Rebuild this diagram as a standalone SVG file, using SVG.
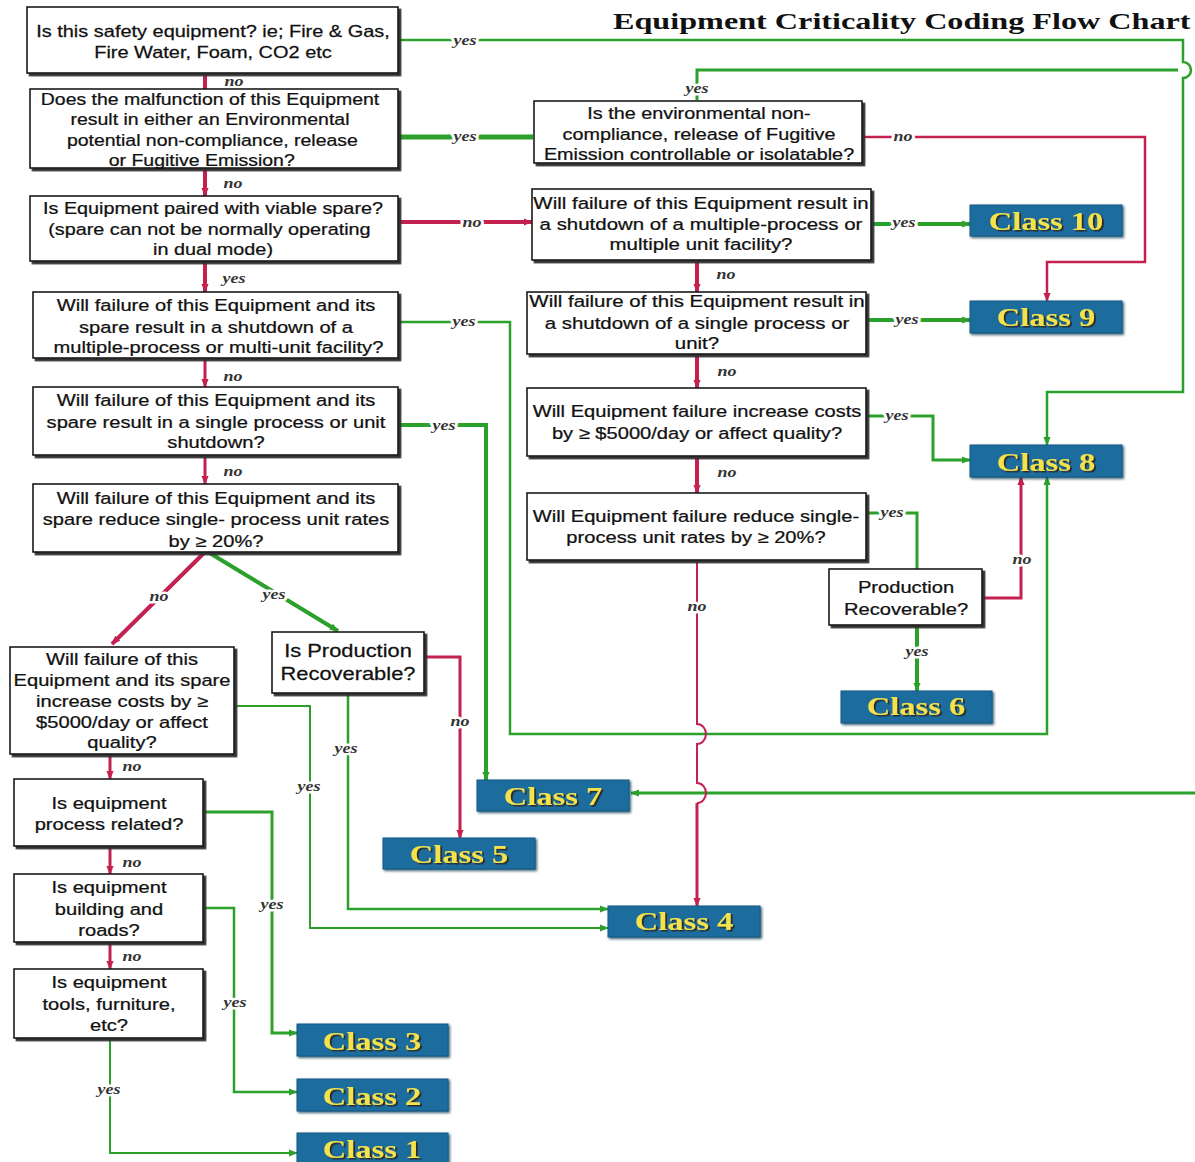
<svg xmlns="http://www.w3.org/2000/svg" width="1195" height="1162" viewBox="0 0 1195 1162">
<style>
.box{fill:#fff;stroke:#1a1a1a;stroke-width:1.6;filter:url(#bs)}
.bt{font-family:"Liberation Sans",Arial,sans-serif;font-size:16.5px;fill:#111;stroke:#111;stroke-width:0.25px;text-anchor:middle}
.cls{fill:#1c6c9e;stroke:#155a85;stroke-width:1;filter:url(#cs)}
.ct{font-family:"Liberation Serif","Times New Roman",serif;font-weight:bold;font-size:26px;fill:#f3e24c;text-anchor:middle;filter:url(#ts)}
.title{font-family:"Liberation Serif","Times New Roman",serif;font-weight:bold;font-size:23px;fill:#111}
.lb{font-family:"Liberation Serif","Times New Roman",serif;font-style:italic;font-weight:bold;font-size:15px;fill:#333;text-anchor:middle;stroke:#fff;stroke-width:5px;paint-order:stroke;stroke-linejoin:round}
.g{fill:none;stroke:#2ba02b;stroke-linejoin:miter}
.r{fill:none;stroke:#c3214f;stroke-linejoin:miter}
.w2{stroke-width:2}
.w25{stroke-width:2.5}
.w3{stroke-width:3}
.w4{stroke-width:4}
.w5{stroke-width:5}
.ga{marker-end:url(#ag)}
.ra{marker-end:url(#ar)}
</style>
<defs>
<filter id="bs" x="-5%" y="-5%" width="115%" height="125%"><feDropShadow dx="2.5" dy="2.5" stdDeviation="0.4" flood-color="#333" flood-opacity="1"/></filter>
<filter id="cs" x="-5%" y="-10%" width="115%" height="130%"><feDropShadow dx="1.5" dy="1.5" stdDeviation="0.8" flood-color="#0d3a55" flood-opacity="0.8"/></filter>
<filter id="ts" x="-10%" y="-20%" width="130%" height="150%"><feDropShadow dx="1.5" dy="1.5" stdDeviation="0.3" flood-color="#2a2a2a" flood-opacity="1"/></filter>
<marker id="ag" viewBox="0 0 10 10" refX="9" refY="5" markerWidth="9" markerHeight="9" markerUnits="userSpaceOnUse" orient="auto"><path d="M0,1 L10,5 L0,9 z" fill="#2ba02b"/></marker>
<marker id="ar" viewBox="0 0 10 10" refX="9" refY="5" markerWidth="9" markerHeight="9" markerUnits="userSpaceOnUse" orient="auto"><path d="M0,1 L10,5 L0,9 z" fill="#c3214f"/></marker>
</defs>
<rect width="1195" height="1162" fill="#fff"/>
<text class="title" transform="translate(613 0) scale(1.4 1)" x="0" y="29">Equipment Criticality Coding Flow Chart</text>

<g id="connectors">
<path class="g w25 ga" d="M398,40 H1183 V62 A8,8 0 0 1 1183,78 V392 H1047 V445"/>
<path class="g w3" d="M697,100 V70 H1178"/>
<path class="g w5" d="M398,137 H533"/>
<path class="g w25 ga" d="M398,322 H510 V734 H1047 V477"/>
<path class="g w4 ga" d="M398,425 H486 V780"/>
<path class="g w4 ga" d="M208,552 L338,631"/>
<path class="g w2 ga" d="M235,706 H310 V928 H608"/>
<path class="g w25 ga" d="M348,693 V909 H608"/>
<path class="g w3 ga" d="M203,812 H272 V1033 H297"/>
<path class="g w25 ga" d="M203,908 H234 V1092 H297"/>
<path class="g w2 ga" d="M110,1038 V1153 H297"/>
<path class="g w4 ga" d="M871,224 H970"/>
<path class="g w4 ga" d="M866,320 H970"/>
<path class="g w3 ga" d="M866,416 H933 V460 H970"/>
<path class="g w3" d="M866,513 H917 V569"/>
<path class="g w4 ga" d="M917,626 V691"/>
<path class="g w3 ga" d="M1195,793 H631"/>

<path class="r w4" d="M205,73 V89"/>
<path class="r w4 ra" d="M205,168 V196"/>
<path class="r w4 ra" d="M398,222 H532"/>
<path class="r w4 ra" d="M205,261 V292"/>
<path class="r w3 ra" d="M205,358 V387"/>
<path class="r w3 ra" d="M205,455 V484"/>
<path class="r w4 ra" d="M205,552 L112,644"/>
<path class="r w3 ra" d="M110,754 V779"/>
<path class="r w3 ra" d="M110,846 V874"/>
<path class="r w3 ra" d="M110,942 V969"/>
<path class="r w3 ra" d="M424,657 H460 V838"/>
<path class="r w25 ra" d="M862,137 H1145 V262 H1047 V301"/>
<path class="r w4 ra" d="M697,260 V292"/>
<path class="r w4 ra" d="M697,354 V388"/>
<path class="r w4 ra" d="M697,456 V493"/>
<path class="r w2" d="M697,560 V724 A9,10 0 0 1 697,744 V783 A9,10 0 0 1 697,803"/>
<path class="r w3 ra" d="M697,803 V906"/>
<path class="r w3 ra" d="M983,598 H1021 V477"/>

<text class="lb" transform="translate(465 0) scale(1.2 1)" y="45">yes</text>
<text class="lb" transform="translate(234 0) scale(1.2 1)" y="86">no</text>
<text class="lb" transform="translate(465 0) scale(1.2 1)" y="141">yes</text>
<text class="lb" transform="translate(233 0) scale(1.2 1)" y="188">no</text>
<text class="lb" transform="translate(472 0) scale(1.2 1)" y="227">no</text>
<text class="lb" transform="translate(234 0) scale(1.2 1)" y="283">yes</text>
<text class="lb" transform="translate(464 0) scale(1.2 1)" y="326">yes</text>
<text class="lb" transform="translate(233 0) scale(1.2 1)" y="381">no</text>
<text class="lb" transform="translate(444 0) scale(1.2 1)" y="430">yes</text>
<text class="lb" transform="translate(233 0) scale(1.2 1)" y="476">no</text>
<text class="lb" transform="translate(159 0) scale(1.2 1)" y="601">no</text>
<text class="lb" transform="translate(274 0) scale(1.2 1)" y="599">yes</text>
<text class="lb" transform="translate(309 0) scale(1.2 1)" y="791">yes</text>
<text class="lb" transform="translate(132 0) scale(1.2 1)" y="771">no</text>
<text class="lb" transform="translate(460 0) scale(1.2 1)" y="726">no</text>
<text class="lb" transform="translate(346 0) scale(1.2 1)" y="753">yes</text>
<text class="lb" transform="translate(132 0) scale(1.2 1)" y="867">no</text>
<text class="lb" transform="translate(272 0) scale(1.2 1)" y="909">yes</text>
<text class="lb" transform="translate(132 0) scale(1.2 1)" y="961">no</text>
<text class="lb" transform="translate(235 0) scale(1.2 1)" y="1007">yes</text>
<text class="lb" transform="translate(109 0) scale(1.2 1)" y="1094">yes</text>
<text class="lb" transform="translate(697 0) scale(1.2 1)" y="93">yes</text>
<text class="lb" transform="translate(903 0) scale(1.2 1)" y="141">no</text>
<text class="lb" transform="translate(904 0) scale(1.2 1)" y="227">yes</text>
<text class="lb" transform="translate(726 0) scale(1.2 1)" y="279">no</text>
<text class="lb" transform="translate(907 0) scale(1.2 1)" y="324">yes</text>
<text class="lb" transform="translate(727 0) scale(1.2 1)" y="376">no</text>
<text class="lb" transform="translate(897 0) scale(1.2 1)" y="420">yes</text>
<text class="lb" transform="translate(727 0) scale(1.2 1)" y="477">no</text>
<text class="lb" transform="translate(892 0) scale(1.2 1)" y="517">yes</text>
<text class="lb" transform="translate(697 0) scale(1.2 1)" y="611">no</text>
<text class="lb" transform="translate(1022 0) scale(1.2 1)" y="564">no</text>
<text class="lb" transform="translate(917 0) scale(1.2 1)" y="656">yes</text>
</g>

<g id="q-safety"><rect class="box" x="27" y="7" width="371" height="66"/>
<text class="bt" transform="translate(213 0) scale(1.21 1)"><tspan x="0" y="37">Is this safety equipment? ie; Fire &amp; Gas,</tspan><tspan x="0" y="58">Fire Water, Foam, CO2 etc</tspan></text></g>

<g id="q-environmental"><rect class="box" x="30" y="89" width="368" height="79"/>
<text class="bt" transform="translate(210 0) scale(1.18 1)"><tspan x="0" y="105">Does the malfunction of this Equipment</tspan><tspan x="0" y="125">result in either an Environmental</tspan><tspan x="2" y="146">potential non-compliance, release</tspan><tspan x="-7" y="166">or Fugitive Emission?</tspan></text></g>

<g id="q-spare"><rect class="box" x="30" y="196" width="368" height="65"/>
<text class="bt" transform="translate(213 0) scale(1.2 1)"><tspan x="0" y="214">Is Equipment paired with viable spare?</tspan><tspan x="-3" y="235">(spare can not be normally operating</tspan><tspan x="0" y="255">in dual mode)</tspan></text></g>

<g id="q-spare-multi"><rect class="box" x="33" y="292" width="365" height="66"/>
<text class="bt" transform="translate(216 0) scale(1.22 1)"><tspan x="0" y="311">Will failure of this Equipment and its</tspan><tspan x="0" y="333">spare result in a shutdown of a</tspan><tspan x="2" y="353">multiple-process or multi-unit facility?</tspan></text></g>

<g id="q-spare-single"><rect class="box" x="33" y="387" width="365" height="68"/>
<text class="bt" transform="translate(216 0) scale(1.22 1)"><tspan x="0" y="406">Will failure of this Equipment and its</tspan><tspan x="0" y="428">spare result in a single process or unit</tspan><tspan x="0" y="448">shutdown?</tspan></text></g>

<g id="q-spare-rates"><rect class="box" x="33" y="484" width="365" height="68"/>
<text class="bt" transform="translate(216 0) scale(1.22 1)"><tspan x="0" y="504">Will failure of this Equipment and its</tspan><tspan x="0" y="525">spare reduce single- process unit rates</tspan><tspan x="0" y="547">by ≥ 20%?</tspan></text></g>

<g id="q-spare-costs"><rect class="box" x="10" y="647" width="224" height="107"/>
<text class="bt" transform="translate(122 0) scale(1.22 1)"><tspan x="0" y="665">Will failure of this</tspan><tspan x="0" y="686">Equipment and its spare</tspan><tspan x="0" y="707">increase costs by ≥</tspan><tspan x="0" y="728">$5000/day or affect</tspan><tspan x="0" y="748">quality?</tspan></text></g>

<g id="q-recoverable-left"><rect class="box" x="272" y="632" width="152" height="61"/>
<text class="bt" transform="translate(348 0) scale(1.25 1)" style="font-size:17.5px"><tspan x="0" y="657">Is Production</tspan><tspan x="0" y="680">Recoverable?</tspan></text></g>

<g id="q-process"><rect class="box" x="14" y="779" width="189" height="67"/>
<text class="bt" transform="translate(109 0) scale(1.22 1)"><tspan x="0" y="809">Is equipment</tspan><tspan x="0" y="830">process related?</tspan></text></g>

<g id="q-building"><rect class="box" x="14" y="874" width="189" height="68"/>
<text class="bt" transform="translate(109 0) scale(1.22 1)"><tspan x="0" y="893">Is equipment</tspan><tspan x="0" y="915">building and</tspan><tspan x="0" y="936">roads?</tspan></text></g>

<g id="q-tools"><rect class="box" x="14" y="969" width="189" height="69"/>
<text class="bt" transform="translate(109 0) scale(1.22 1)"><tspan x="0" y="988">Is equipment</tspan><tspan x="0" y="1010">tools, furniture,</tspan><tspan x="0" y="1031">etc?</tspan></text></g>

<g id="q-controllable"><rect class="box" x="534" y="101" width="328" height="62"/>
<text class="bt" transform="translate(699 0) scale(1.2 1)"><tspan x="0" y="119">Is the environmental non-</tspan><tspan x="0" y="140">compliance, release of Fugitive</tspan><tspan x="0" y="160">Emission controllable or isolatable?</tspan></text></g>

<g id="q-multi"><rect class="box" x="532" y="189" width="339" height="71"/>
<text class="bt" transform="translate(701 0) scale(1.24 1)"><tspan x="0" y="209">Will failure of this Equipment result in</tspan><tspan x="0" y="230">a shutdown of a multiple-process or</tspan><tspan x="0" y="250">multiple unit facility?</tspan></text></g>

<g id="q-single"><rect class="box" x="527" y="292" width="339" height="62"/>
<text class="bt" transform="translate(697 0) scale(1.24 1)"><tspan x="0" y="307">Will failure of this Equipment result in</tspan><tspan x="0" y="329">a shutdown of a single process or</tspan><tspan x="0" y="349">unit?</tspan></text></g>

<g id="q-costs"><rect class="box" x="527" y="388" width="339" height="68"/>
<text class="bt" transform="translate(697 0) scale(1.22 1)"><tspan x="0" y="417">Will Equipment failure increase costs</tspan><tspan x="0" y="439">by ≥ $5000/day or affect quality?</tspan></text></g>

<g id="q-rates"><rect class="box" x="527" y="493" width="339" height="67"/>
<text class="bt" transform="translate(696 0) scale(1.22 1)"><tspan x="0" y="522">Will Equipment failure reduce single-</tspan><tspan x="0" y="543">process unit rates by ≥ 20%?</tspan></text></g>

<g id="q-recoverable-right"><rect class="box" x="829" y="569" width="153" height="56"/>
<text class="bt" transform="translate(906 0) scale(1.22 1)"><tspan x="0" y="593">Production</tspan><tspan x="0" y="615">Recoverable?</tspan></text></g>

<g id="class10"><rect class="cls" x="970" y="205" width="152" height="31"/><text class="ct" transform="translate(1046 0) scale(1.25 1)" y="230">Class 10</text></g>
<g id="class9"><rect class="cls" x="970" y="301" width="152" height="32"/><text class="ct" transform="translate(1046 0) scale(1.25 1)" y="326">Class 9</text></g>
<g id="class8"><rect class="cls" x="970" y="445" width="152" height="32"/><text class="ct" transform="translate(1046 0) scale(1.25 1)" y="471">Class 8</text></g>
<g id="class6"><rect class="cls" x="841" y="691" width="151" height="32"/><text class="ct" transform="translate(916 0) scale(1.25 1)" y="715">Class 6</text></g>
<g id="class7"><rect class="cls" x="477" y="780" width="152" height="31"/><text class="ct" transform="translate(553 0) scale(1.25 1)" y="805">Class 7</text></g>
<g id="class5"><rect class="cls" x="383" y="838" width="152" height="31"/><text class="ct" transform="translate(459 0) scale(1.25 1)" y="863">Class 5</text></g>
<g id="class4"><rect class="cls" x="608" y="906" width="152" height="31"/><text class="ct" transform="translate(684 0) scale(1.25 1)" y="930">Class 4</text></g>
<g id="class3"><rect class="cls" x="297" y="1024" width="151" height="32"/><text class="ct" transform="translate(372 0) scale(1.25 1)" y="1050">Class 3</text></g>
<g id="class2"><rect class="cls" x="297" y="1079" width="151" height="32"/><text class="ct" transform="translate(372 0) scale(1.25 1)" y="1105">Class 2</text></g>
<g id="class1"><rect class="cls" x="297" y="1133" width="151" height="34"/><text class="ct" transform="translate(372 0) scale(1.25 1)" y="1158">Class 1</text></g>
</svg>
